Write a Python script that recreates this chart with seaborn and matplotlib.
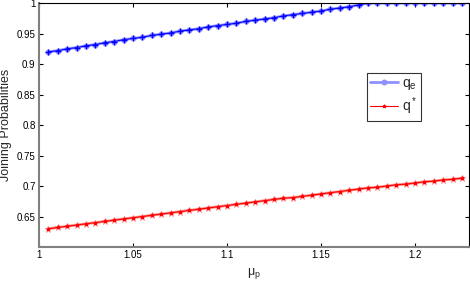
import matplotlib
matplotlib.use("Agg")
import matplotlib.pyplot as plt
import seaborn as sns
import pandas as pd

mu_p = [1.005, 1.010, 1.015, 1.020, 1.025, 1.030, 1.035, 1.040, 1.045, 1.050,
        1.055, 1.060, 1.065, 1.070, 1.075, 1.080, 1.085, 1.090, 1.095, 1.100,
        1.105, 1.110, 1.115, 1.120, 1.125, 1.130, 1.135, 1.140, 1.145, 1.150,
        1.155, 1.160, 1.165, 1.170, 1.175, 1.180, 1.185, 1.190, 1.195, 1.200,
        1.205, 1.210, 1.215, 1.220, 1.225]
q_e = [0.920, 0.922, 0.925, 0.927, 0.930, 0.932, 0.935, 0.937, 0.940, 0.942,
       0.944, 0.947, 0.949, 0.951, 0.954, 0.956, 0.958, 0.961, 0.963, 0.965,
       0.967, 0.970, 0.972, 0.974, 0.976, 0.979, 0.981, 0.983, 0.985, 0.987,
       0.990, 0.992, 0.994, 0.997, 1.000, 1.000, 1.000, 1.000, 1.000, 1.000,
       1.000, 1.000, 1.000, 1.000, 1.000]
q_star = [0.630, 0.632, 0.634, 0.636, 0.638, 0.640, 0.642, 0.644, 0.646, 0.648,
          0.650, 0.652, 0.654, 0.656, 0.658, 0.660, 0.662, 0.664, 0.666, 0.668,
          0.670, 0.672, 0.674, 0.676, 0.678, 0.680, 0.681, 0.683, 0.685, 0.687,
          0.689, 0.691, 0.693, 0.695, 0.697, 0.698, 0.700, 0.702, 0.703, 0.705,
          0.707, 0.708, 0.710, 0.711, 0.713]
x_ticks = [1.0, 1.05, 1.1, 1.15, 1.2]
x_ticklabels = ["1", "1.05", "1.1", "1.15", "1.2"]
y_ticks = [0.65, 0.7, 0.75, 0.8, 0.85, 0.9, 0.95, 1.0]
y_ticklabels = ["0.65", "0.7", "0.75", "0.8", "0.85", "0.9", "0.95", "1"]

df = pd.DataFrame({"mu": mu_p, "qe": q_e, "qs": q_star})

sns.set_style("ticks")
plt.rcParams["font.family"] = ["Liberation Sans", "DejaVu Sans"]
plt.rcParams["xtick.direction"] = "in"
plt.rcParams["ytick.direction"] = "in"

fig = plt.figure(figsize=(4.7, 2.81), dpi=100)
ax = fig.add_axes([0.083, 0.121, 0.915, 0.868])

# blue series: light halo line + dark '+' markers
sns.lineplot(data=df, x="mu", y="qe", ax=ax, color="#9090ff", linewidth=2.0,
             marker="o", markersize=3.5, markerfacecolor="#9090ff",
             markeredgecolor="#9090ff", label="$\\mathregular{q_e}$")
sns.lineplot(data=df, x="mu", y="qe", ax=ax, color="#0000ff", linewidth=0.7,
             marker="+", markersize=5, markeredgewidth=1.0,
             markeredgecolor="#0000ff", legend=False)
# red series: light halo + red line with stars
sns.lineplot(data=df, x="mu", y="qs", ax=ax, color="#ff9090", linewidth=2.0,
             marker="*", markersize=5, markerfacecolor="#ff9c9c",
             markeredgecolor="#ff9090", legend=False)
sns.lineplot(data=df, x="mu", y="qs", ax=ax, color="#ff0000", linewidth=0.8,
             marker="*", markersize=2.5, markerfacecolor="#ff0000",
             markeredgecolor="#ff0000", label="$\\mathregular{q^*}$")

ax.set_xlim(1.0, 1.2287)
ax.set_ylim(0.6, 1.0)
ax.set_xticks(x_ticks)
ax.set_xticklabels(x_ticklabels)
ax.set_yticks(y_ticks)
ax.set_yticklabels(y_ticklabels)
ax.tick_params(axis="both", labelsize=7, length=3, width=0.8, pad=2.5,
               top=True, right=True, colors="black")
ax.set_xlabel("$\\mathregular{\\mu_p}$", fontsize=9)
ax.set_ylabel("Joining Probabilities", fontsize=9)
ax.xaxis.set_label_coords(0.5, -0.078)
ax.yaxis.set_label_coords(-0.062, 0.5)

for side in ["top", "right"]:
    ax.spines[side].set_color("black")
    ax.spines[side].set_linewidth(0.8)
for side in ["left", "bottom"]:
    ax.spines[side].set_color("#808080")
    ax.spines[side].set_linewidth(1.5)

leg = ax.legend(loc="upper left", bbox_to_anchor=(0.762, 0.715), fontsize=10,
                frameon=True, fancybox=False, handlelength=2.0,
                borderpad=0.25, labelspacing=0.25, handletextpad=0.3,
                borderaxespad=0.0)
leg.get_frame().set_edgecolor("black")
leg.get_frame().set_linewidth(0.8)

fig.savefig("out.png", dpi=100)
